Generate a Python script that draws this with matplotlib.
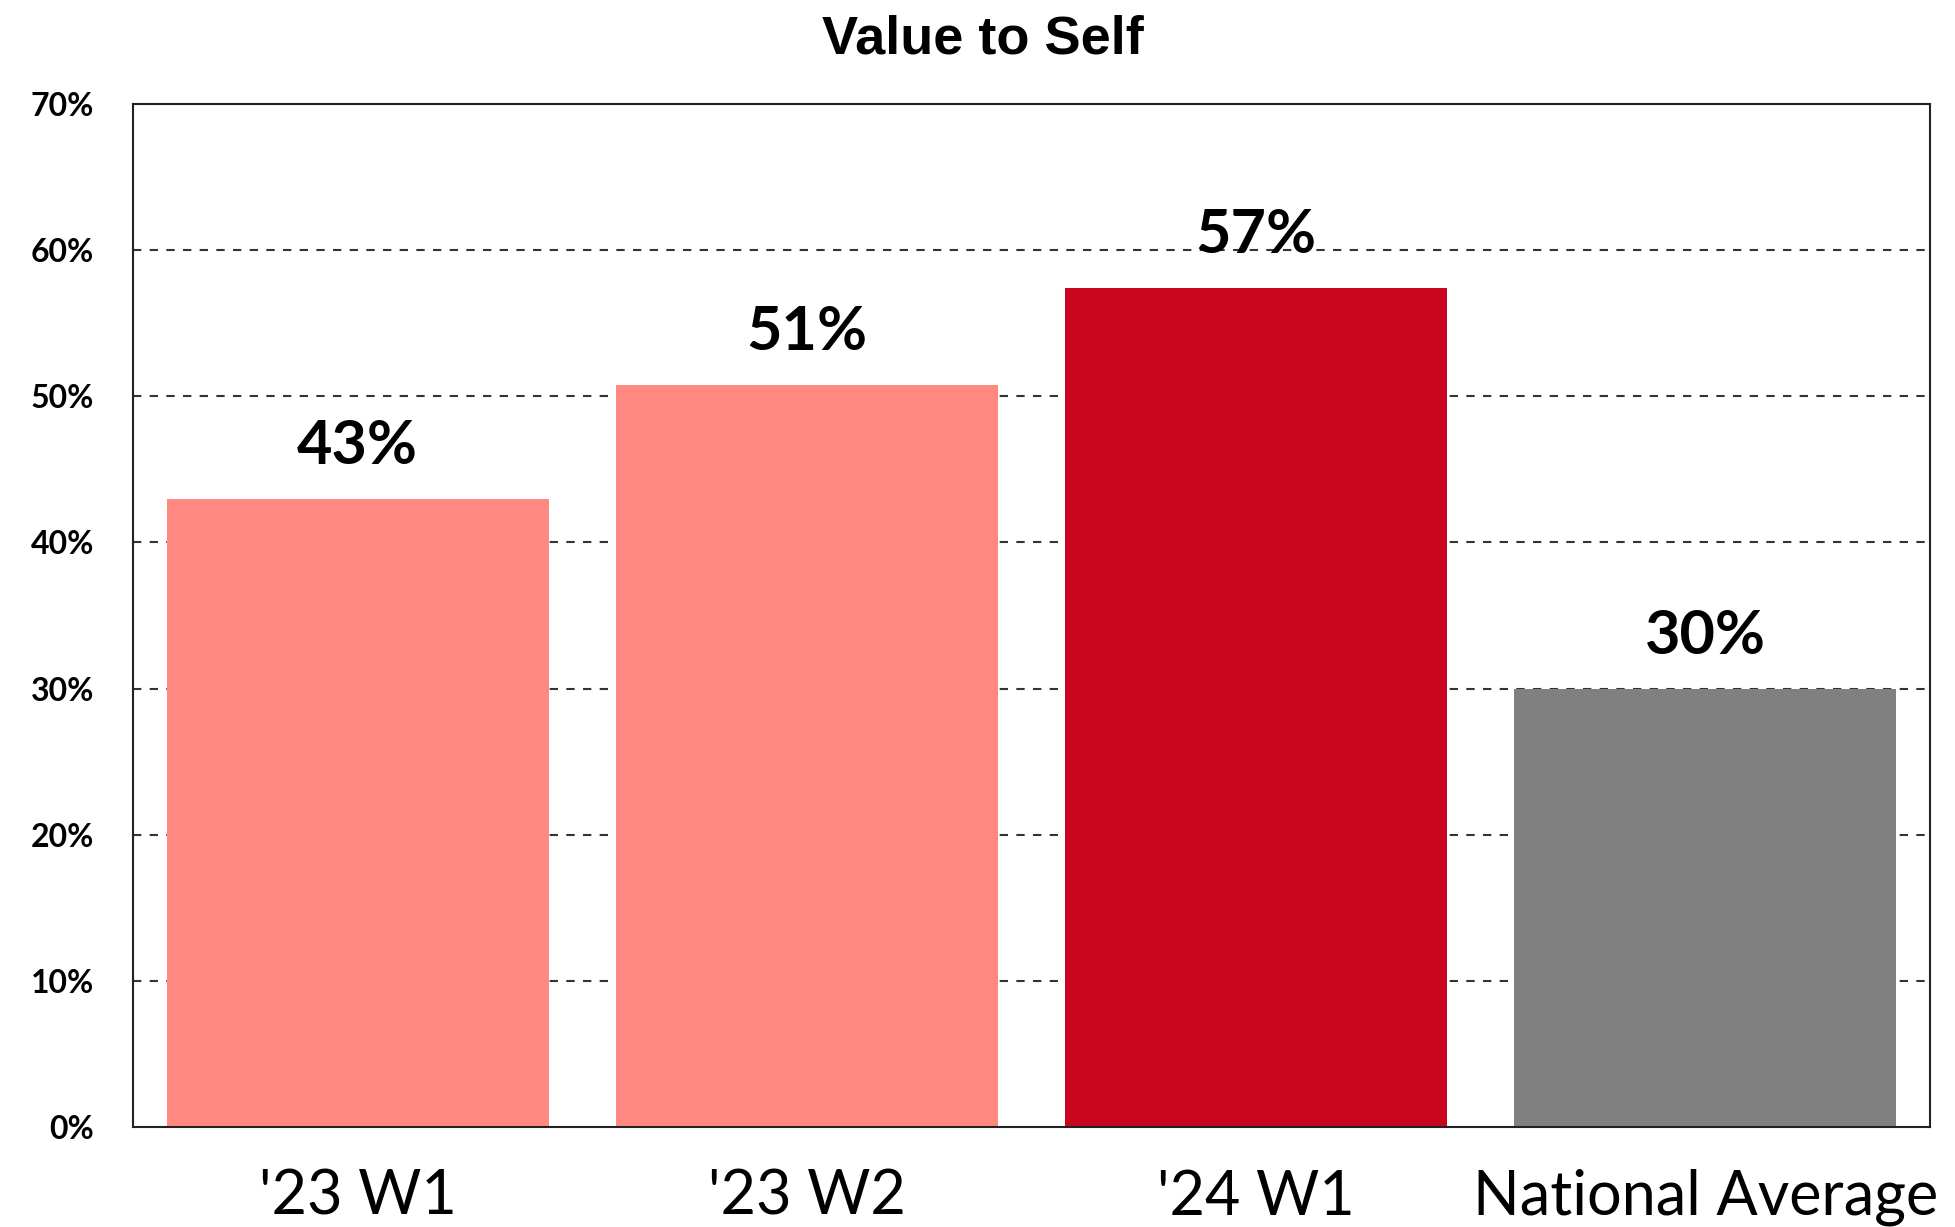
import matplotlib
matplotlib.use("Agg")
import matplotlib.pyplot as plt

categories = ["'23 W1", "'23 W2", "'24 W1", "National Average"]
values = [43.0, 50.8, 57.4, 30.0]
labels = ["43%", "51%", "57%", "30%"]
colors = ["#FF8880", "#FF8880", "#C8061F", "#808080"]
yticks = [0, 10, 20, 30, 40, 50, 60, 70]
ytick_labels = ["0%", "10%", "20%", "30%", "40%", "50%", "60%", "70%"]
title = "Value to Self"

fig = plt.figure(figsize=(19.55, 12.27), dpi=100)
ax = fig.add_axes([133/1955, 1 - 1127/1227, (1930-133)/1955, (1127-104)/1227])

x = list(range(len(categories)))
bars = ax.bar(x, values, width=0.85, color=colors, zorder=2)

ax.set_xlim(-0.5, 3.5)
ax.set_ylim(0, 70)
ax.set_yticks(yticks)
ax.set_yticklabels(ytick_labels, fontfamily="Lato", fontweight="bold", fontsize=23)
ax.set_xticks(x)
ax.set_xticklabels(categories, fontfamily="Lato", fontsize=44)
ax.tick_params(axis="y", length=0, pad=28)
ax.tick_params(axis="x", length=0, pad=30)

for yv in yticks[1:-1]:
    ax.axhline(yv, color="#333333", lw=1.5, linestyle=(0, (4, 4)), zorder=1)

for s in ax.spines.values():
    s.set_color("#222222")
    s.set_linewidth(1.5)
    s.set_zorder(3)

for xi, v, lab in zip(x, values, labels):
    ax.annotate(lab, (xi, v), xytext=(0, 18), textcoords="offset points",
                ha="center", va="bottom", fontfamily="Lato", fontweight="bold",
                fontsize=44, zorder=4)

fig.text(0.503, 1 - 40/1227, title, ha="center", va="center",
         fontfamily="Liberation Sans", fontweight="bold", fontsize=39)

fig.savefig("out.png", dpi=100)
